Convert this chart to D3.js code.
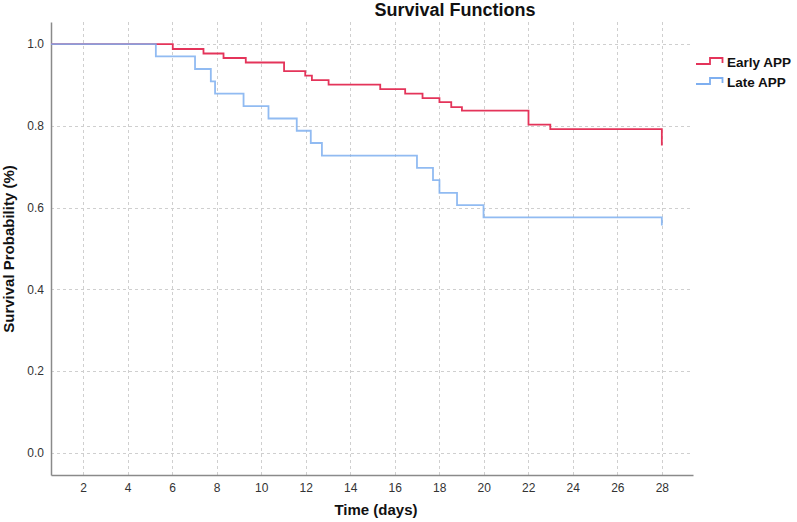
<!DOCTYPE html>
<html>
<head>
<meta charset="utf-8">
<script src="https://cdn.jsdelivr.net/npm/d3@7"></script>
<style>
  body { margin: 0; background: #fff; }
  svg { display: block; font-family: "Liberation Sans", Arial, sans-serif; }
</style>
</head>
<body>
<svg id="chart" width="797" height="522"></svg>
<script>
// ---- data ----
const seriesNames = ["Early APP", "Late APP"];
const earlyTimes = [6.03, 7.41, 8.31, 9.31, 11.03, 11.98, 12.28, 13.03, 15.35, 16.47, 17.25, 18.01, 18.54, 19.02, 22.01, 22.99, 28.0];
const earlySurv  = [0.988, 0.977, 0.966, 0.955, 0.934, 0.923, 0.912, 0.901, 0.890, 0.879, 0.868, 0.858, 0.846, 0.837, 0.803, 0.792, 0.752];
const lateTimes  = [5.27, 7.03, 7.74, 7.93, 9.21, 10.33, 11.6, 12.23, 12.73, 17.0, 17.72, 18.01, 18.8, 19.99, 28.0];
const lateSurv   = [0.970, 0.939, 0.909, 0.879, 0.848, 0.818, 0.788, 0.758, 0.727, 0.697, 0.667, 0.636, 0.606, 0.576, 0.556];
const xTicks = [2, 4, 6, 8, 10, 12, 14, 16, 18, 20, 22, 24, 26, 28];
const yTicks = [0.0, 0.2, 0.4, 0.6, 0.8, 1.0];
const colors = ["#e4345a", "#7eaff0"];

// ---- layout ----
const svg = d3.select("#chart");
const pLeft = 51, pRight = 693, pTop = 22, pBottom = 475;
const x = d3.scaleLinear().domain([0.56, 29.4]).range([pLeft, pRight]);
const y = d3.scaleLinear().domain([-0.054, 1.054]).range([pBottom, pTop]);

// gridlines
const grid = svg.append("g").attr("stroke", "#cfcfcf").attr("stroke-width", 1).attr("stroke-dasharray", "3,3");
grid.selectAll("line.v").data(xTicks).join("line").attr("class", "v")
  .attr("x1", d => Math.round(x(d)) + 0.5).attr("x2", d => Math.round(x(d)) + 0.5)
  .attr("y1", pTop).attr("y2", pBottom);
grid.selectAll("line.h").data(yTicks).join("line").attr("class", "h")
  .attr("y1", d => Math.round(y(d)) + 0.5).attr("y2", d => Math.round(y(d)) + 0.5)
  .attr("x1", pLeft).attr("x2", pRight);

// axes
const xAxis = svg.append("g").attr("transform", `translate(0,${pBottom})`)
  .call(d3.axisBottom(x).tickValues(xTicks).tickSize(0).tickPadding(8).tickFormat(d3.format("d")));
const yAxis = svg.append("g").attr("transform", `translate(${pLeft},0)`)
  .call(d3.axisLeft(y).tickValues(yTicks).tickSize(0).tickPadding(7).tickFormat(d3.format(".1f")));
[xAxis, yAxis].forEach(g => {
  g.select(".domain").attr("stroke", "#8a8a8a").attr("stroke-width", 1.5);
  g.selectAll("text").attr("font-size", 12).attr("fill", "#333")
    .attr("font-family", "'Liberation Sans', Arial, sans-serif");
});

// curves
function stepData(times, surv) {
  const pts = [{t: x.domain()[0], s: 1.0}];
  times.forEach((t, i) => pts.push({t, s: surv[i]}));
  return pts;
}
const line = d3.line().x(d => x(d.t)).y(d => y(d.s)).curve(d3.curveStepAfter);
const series = [stepData(earlyTimes, earlySurv), stepData(lateTimes, lateSurv)];
svg.append("path").datum(series[0]).attr("d", line)
  .attr("fill", "none").attr("stroke", colors[0]).attr("stroke-width", 1.8);
svg.append("path").datum(series[1]).attr("d", line)
  .attr("fill", "none").attr("stroke", colors[1]).attr("stroke-width", 1.8).attr("stroke-opacity", 0.85);

// title
svg.append("text").attr("x", 455).attr("y", 16).attr("text-anchor", "middle")
  .attr("font-size", 18).attr("font-weight", "bold").attr("fill", "#111").text("Survival Functions");
// axis labels
svg.append("text").attr("x", 376).attr("y", 515).attr("text-anchor", "middle")
  .attr("font-size", 15).attr("font-weight", "bold").attr("fill", "#111").text("Time (days)");
svg.append("text").attr("transform", "translate(14,249) rotate(-90)").attr("text-anchor", "middle")
  .attr("font-size", 15).attr("font-weight", "bold").attr("fill", "#111").text("Survival Probability (%)");

// legend
const leg = svg.append("g");
seriesNames.forEach((name, i) => {
  const cy = 62 + i * 20;
  leg.append("path")
    .attr("d", `M696,${cy + 2}H710V${cy - 4}H722.5V${cy + 1}`)
    .attr("fill", "none").attr("stroke", colors[i]).attr("stroke-width", 1.8);
  leg.append("text").attr("x", 727).attr("y", cy).attr("dy", "0.35em")
    .attr("font-size", 13.5).attr("font-weight", "bold").attr("fill", "#111").text(name);
});
</script>
</body>
</html>
